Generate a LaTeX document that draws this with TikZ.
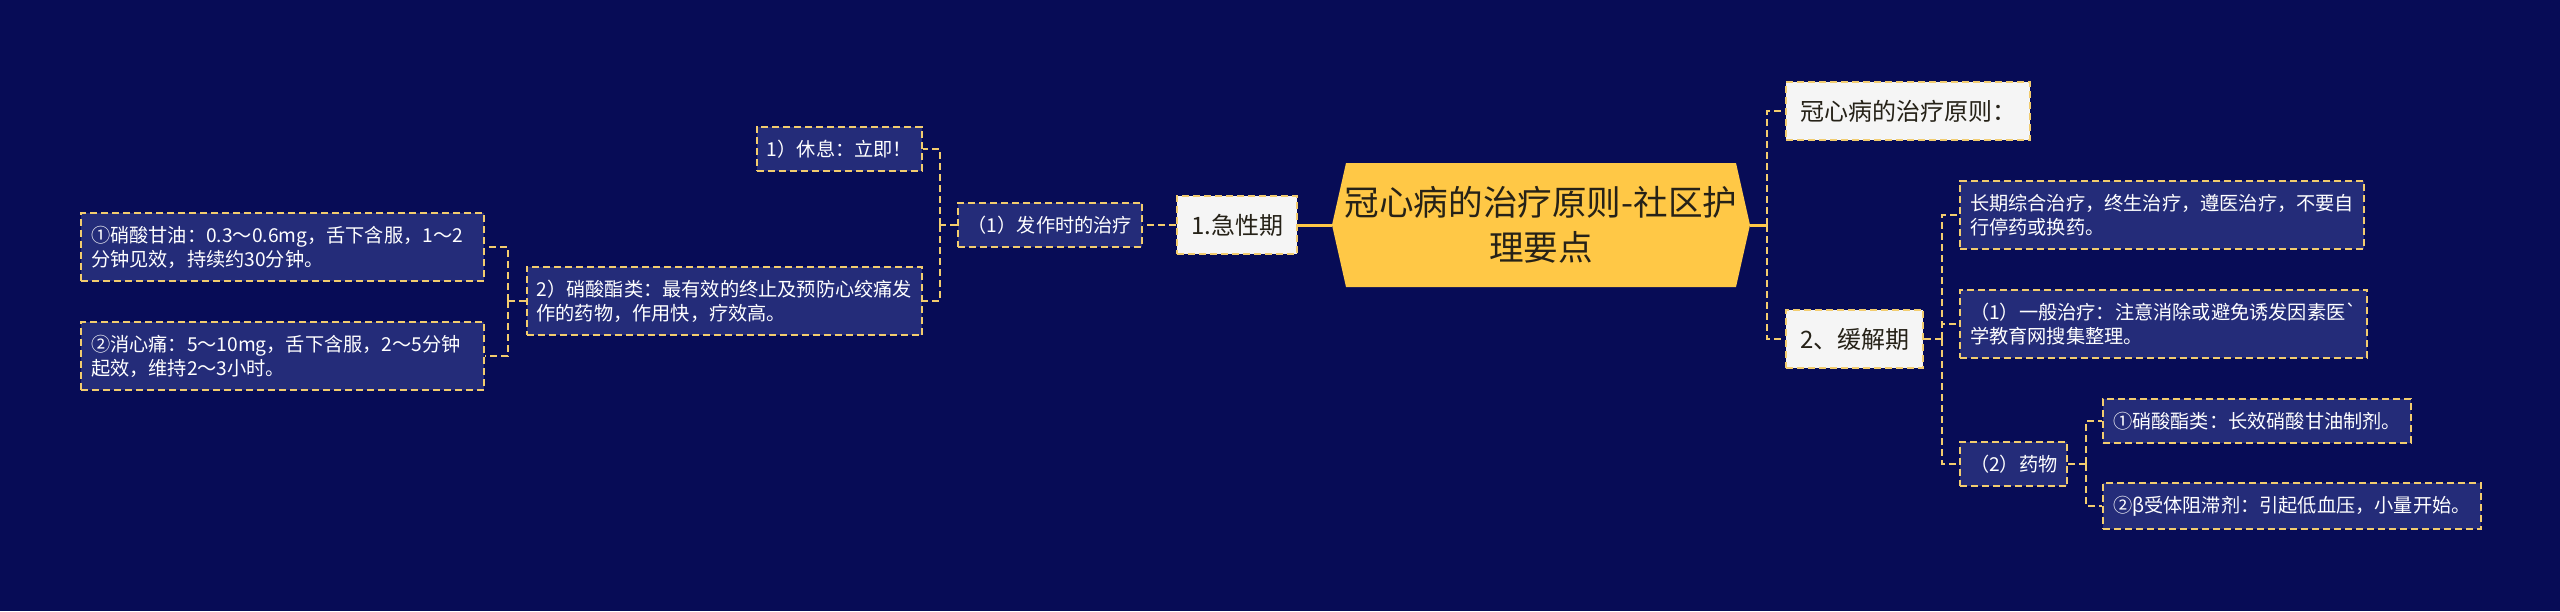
\documentclass[tikz,border=0pt]{standalone}
\usepackage{fontspec}
\setmainfont{Noto Sans CJK SC}[Ligatures=TeXOff]
\usepackage{tikz}
\definecolor{bgblue}{RGB}{7,12,86}
\definecolor{boxblue}{RGB}{36,44,121}
\definecolor{gold}{RGB}{255,200,70}
\definecolor{dashgold}{RGB}{242,204,110}
\definecolor{paper}{RGB}{245,245,245}
\definecolor{ink}{RGB}{38,34,24}

\begin{document}
\begin{tikzpicture}[x=0.5pt,y=-0.5pt,
  leaf/.style={draw=dashgold,dash pattern=on 3.5pt off 2pt,line width=1pt,fill=boxblue,text=white,
    font=\fontsize{9.6}{12}\selectfont,align=left,inner xsep=5pt,inner ysep=6.5pt,minimum height=22pt},
  branch/.style={draw=dashgold,dash pattern=on 3.5pt off 2pt,line width=1pt,fill=paper,text=ink,
    font=\fontsize{12}{15}\selectfont,inner xsep=7pt,minimum height=29pt},
  link/.style={draw=dashgold,dash pattern=on 3.5pt off 2pt,line width=1pt},
  trunk/.style={draw=gold,line width=1.5pt}]
\fill[bgblue] (0,0) rectangle (2560,611);
\useasboundingbox (0,0) rectangle (2560,611);

% centre
\node[fill=bgblue,minimum width=209pt,minimum height=62pt,inner sep=0pt,align=center,text=ink,
  font=\fontsize{17.3}{22.5}\selectfont,
  path picture={\fill[gold] (path picture bounding box.west)
    -- ([xshift=7pt]path picture bounding box.north west) -- ([xshift=-7pt]path picture bounding box.north east)
    -- (path picture bounding box.east)
    -- ([xshift=-7pt]path picture bounding box.south east) -- ([xshift=7pt]path picture bounding box.south west) -- cycle;}]
  (root) at (1541,225) {冠心病的治疗原则-社区护\\理要点};

% left side
\node[branch,anchor=east] (acute) at (1298,225) {1.急性期};
\node[leaf,anchor=east] (attack) at (1143,225) {（1）发作时的治疗};
\node[leaf,anchor=east] (rest) at (923,149) {1）休息：立即！};
\node[leaf,anchor=east] (nitrate) at (923,301) {2）硝酸酯类：最有效的终止及预防心绞痛发\\作的药物，作用快，疗效高。};
\node[leaf,anchor=east,text width=191.5pt] (ntg) at (485,247) {①硝酸甘油：0.3～0.6mg，舌下含服，1～2\\分钟见效，持续约30分钟。};
\node[leaf,anchor=east,text width=191.5pt] (isdn) at (485,356) {②消心痛：5～10mg，舌下含服，2～5分钟\\起效，维持2～3小时。};

% right side
\node[branch,anchor=west] (principle) at (1785,111) {冠心病的治疗原则：\hspace{14pt}};
\node[branch,anchor=west] (remission) at (1785,339) {2、缓解期};
\node[leaf,anchor=west] (longterm) at (1959,215) {长期综合治疗，终生治疗，遵医治疗，不要自\\行停药或换药。};
\node[leaf,anchor=west] (general) at (1959,324) {（1）一般治疗：注意消除或避免诱发因素医`\\学教育网搜集整理。};
\node[leaf,anchor=west] (drugs) at (1959,464) {（2）药物};
\node[leaf,anchor=west] (nitrate2) at (2102,421) {①硝酸酯类：长效硝酸甘油制剂。};
\node[leaf,anchor=west] (beta) at (2102,506) {②β受体阻滞剂：引起低血压，小量开始。};

% connectors
\draw[trunk] (root.west) -- (acute.east);
\draw[link] (acute.west) -- (attack.east);
\draw[link] (attack.west) -- ++(-17,0) coordinate (aj);
\draw[link] (aj) |- (rest.east);
\draw[link] (aj) |- (nitrate.east);
\draw[link] (nitrate.west) -- ++(-18,0) coordinate (nj);
\draw[link] (nj) |- (ntg.east);
\draw[link] (nj) |- (isdn.east);

\draw[trunk] (root.east) -- ++(17,0) coordinate (rj);
\draw[link] (rj) |- (principle.west);
\draw[link] (rj) |- (remission.west);
\draw[link] (remission.east) -- ++(18,0) coordinate (mj);
\draw[link] (mj) |- (longterm.west);
\draw[link] (mj) |- (general.west);
\draw[link] (mj) |- (drugs.west);
\draw[link] (drugs.east) -- ++(18,0) coordinate (dj);
\draw[link] (dj) |- (nitrate2.west);
\draw[link] (dj) |- (beta.west);
\end{tikzpicture}
\end{document}
